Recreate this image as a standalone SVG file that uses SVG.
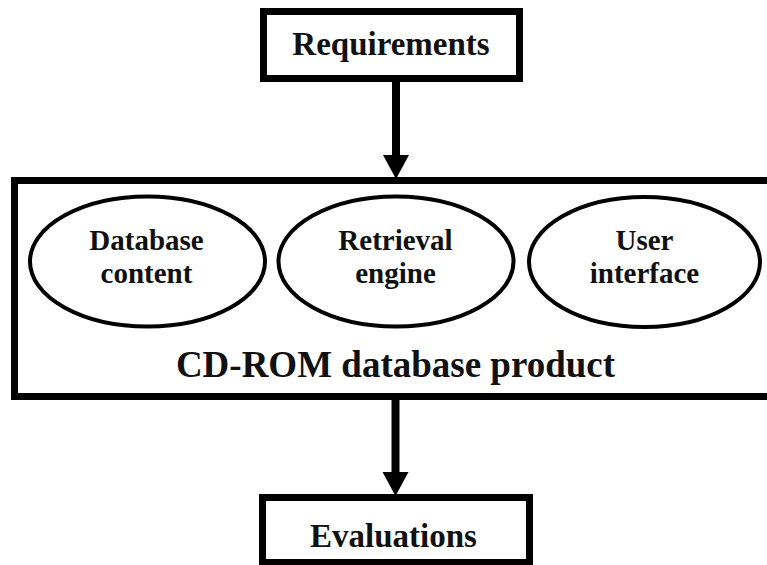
<svg xmlns="http://www.w3.org/2000/svg" width="767" height="565" viewBox="0 0 767 565">
<style>
.box{fill:#fff;stroke:#000;stroke-width:7}
.ell{fill:#fff;stroke:#000;stroke-width:4}
.t{font-weight:bold;fill:#111;text-anchor:middle}
.lab{font-size:29px}
.big{font-size:33px}
.title{font-size:37px}
.ln{stroke:#000;stroke-width:8}
</style>
<rect width="767" height="565" fill="#fff"/>
<g font-family="'Liberation Serif', serif">
<g id="requirements">
<rect class="box" x="263.5" y="11.5" width="256" height="67"/>
<text class="t big" x="391" y="55">Requirements</text>
</g>
<g id="product">
<rect class="box" x="14.5" y="180.5" width="765" height="216"/>
<text class="t title" x="395.5" y="377">CD-ROM database product</text>
</g>
<g id="database-content">
<ellipse class="ell" cx="147.5" cy="261.5" rx="117.5" ry="65"/>
<text class="t lab" x="146.5" y="250">Database</text>
<text class="t lab" x="146.5" y="283">content</text>
</g>
<g id="retrieval-engine">
<ellipse class="ell" cx="396" cy="261.5" rx="117.5" ry="65"/>
<text class="t lab" x="395.5" y="250">Retrieval</text>
<text class="t lab" x="395.5" y="283">engine</text>
</g>
<g id="user-interface">
<ellipse class="ell" cx="644.5" cy="262" rx="115.5" ry="65"/>
<text class="t lab" x="644.5" y="250">User</text>
<text class="t lab" x="644.5" y="283">interface</text>
</g>
<g id="evaluations">
<rect class="box" x="262.5" y="497.5" width="267" height="65"/>
<text class="t big" x="393.5" y="547">Evaluations</text>
</g>
</g>
<g id="connectors">
<line class="ln" x1="396" y1="80" x2="396" y2="157"/>
<polygon points="383,155 409,155 396,179"/>
<line class="ln" x1="395.5" y1="398" x2="395.5" y2="474"/>
<polygon points="382.5,472 408.5,472 395.5,496"/>
</g>
</svg>
